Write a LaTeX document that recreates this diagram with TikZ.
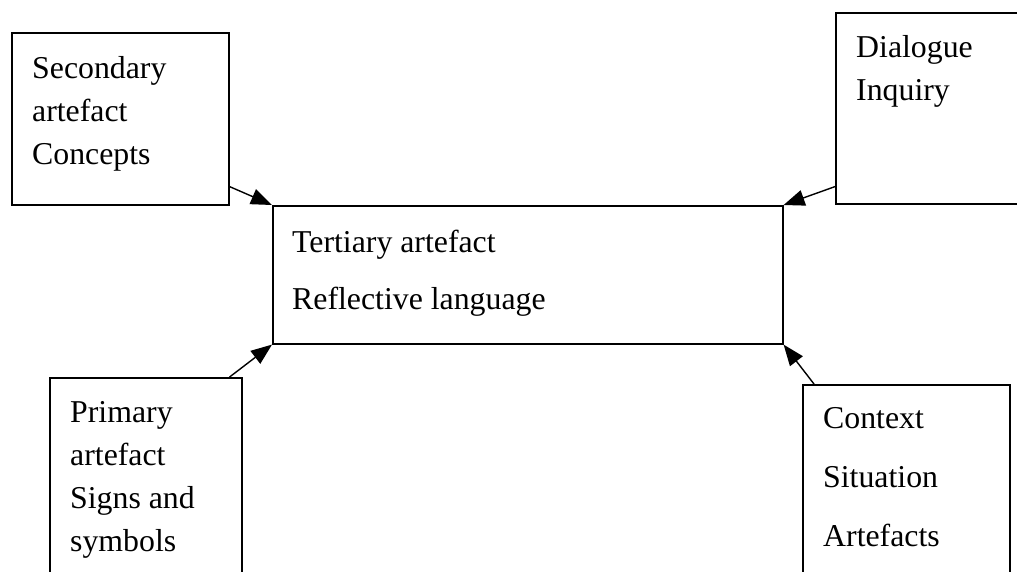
\documentclass[tikz,border=0pt]{standalone}
\usepackage{fontspec}
\setmainfont{Liberation Serif}
\usetikzlibrary{positioning, arrows.meta}

\tikzset{
  artbox/.style={draw, rectangle, line width=1.6pt, inner sep=0pt, anchor=north west},
  arttext/.style={anchor=base west, align=left, inner sep=0pt, font=\fontsize{31.8}{43}\selectfont},
  widetext/.style={arttext, font=\fontsize{31.8}{#1}\selectfont},
  artarrow/.style={line width=1.4pt, -{Triangle[length=21pt, width=16pt]}}
}

\begin{document}
\begin{tikzpicture}[x=1pt, y=-1pt]
	\useasboundingbox (0,0) rectangle (1017,571);
	\clip (0,0) rectangle (1017,571);

	% Boxes
	\node[artbox, minimum width=217pt, minimum height=172pt] (secondary) at (11,32) {};
	\node[artbox, minimum width=200pt, minimum height=191pt] (dialogue) at (835,12) {};
	\node[artbox, minimum width=510pt, minimum height=138pt] (tertiary) at (272,205) {};
	\node[artbox, minimum width=192pt, minimum height=220pt] (primary) at (49,377) {};
	\node[artbox, minimum width=207pt, minimum height=215pt] (context) at (802,384) {};

	% Texts (placed at the baseline of their last line)
	\node[arttext] (secondarytext) at (32,164) {Secondary\\artefact\\Concepts};
	\node[arttext] (dialoguetext) at (856,100) {Dialogue\\Inquiry};
	\node[widetext=57] (tertiarytext) at (292,309) {Tertiary artefact\\Reflective language};
	\node[arttext] (primarytext) at (70,551) {Primary\\artefact\\Signs and\\symbols};
	\node[widetext=59] (contexttext) at (823,546) {Context\\Situation\\Artefacts};

	% Arrows
	\draw[artarrow] ([yshift=19pt]secondary.south east) -- (tertiary.north west);
	\draw[artarrow] ([yshift=18pt]dialogue.south west) -- (tertiary.north east);
	\draw[artarrow] ([xshift=-13pt]primary.north east) -- (tertiary.south west);
	\draw[artarrow] ([xshift=12pt]context.north west) -- (tertiary.south east);
\end{tikzpicture}
\end{document}
